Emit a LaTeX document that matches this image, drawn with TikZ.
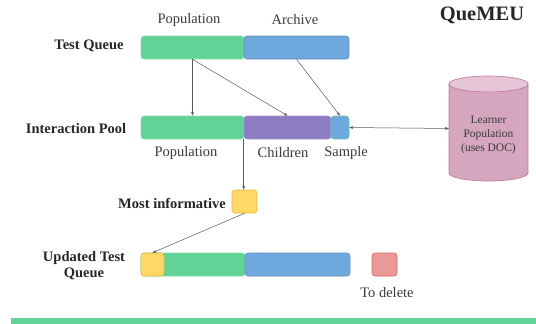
\documentclass[tikz,border=0pt]{standalone}
\usepackage{fontspec}
\setmainfont{Liberation Serif}
\usetikzlibrary{arrows.meta}
\definecolor{popgreen}{HTML}{62D396}
\definecolor{archblue}{HTML}{6FA8DC}
\definecolor{childpurple}{HTML}{8E7CC3}
\definecolor{infoyellow}{HTML}{FFD966}
\definecolor{infoline}{HTML}{E5B83A}
\definecolor{delred}{HTML}{EA9999}
\definecolor{delline}{HTML}{E06666}
\definecolor{learnerpink}{HTML}{D5A6BD}
\definecolor{learnertop}{HTML}{E6C6D6}
\definecolor{learnerline}{HTML}{C27BA0}
\definecolor{labelgray}{HTML}{3A3A3A}

\begin{document}
\begin{tikzpicture}[x=1pt, y=-1pt,
    box/.style={rounded corners=3pt, line width=0.6pt, inner sep=0pt, minimum height=23pt},
    rowlabel/.style={font=\fontsize{14.5}{16}\selectfont\bfseries, text=black!85, align=center},
    partlabel/.style={font=\fontsize{14.5}{16}\selectfont, text=labelgray},
    link/.style={draw=black!65, line width=0.5pt, -{Stealth[length=4pt, width=3pt]}}]
    \useasboundingbox (0,0) rectangle (536,324);

    % Title
    \node[font=\fontsize{20.5}{22}\selectfont\bfseries, text=black!85] (title) at (482,15.5) {QueMEU};

    % Test queue
    \node[box, fill=popgreen, draw=popgreen!75!white, minimum width=103pt] (tqpop) at (192.5,47.5) {};
    \node[box, fill=archblue, draw=archblue!85!black, minimum width=105pt] (tqarch) at (296.5,47.5) {};
    \node[rowlabel] (tqlabel) at (89,46) {Test Queue};
    \node[partlabel] (tqpoplabel) at (189,20) {Population};
    \node[partlabel] (tqarchlabel) at (295,20) {Archive};

    % Interaction pool
    \node[box, fill=popgreen, draw=popgreen!75!white, minimum width=103pt] (ippop) at (192.5,127.5) {};
    \node[box, fill=childpurple, draw=childpurple!85!white, minimum width=87pt] (ipchild) at (287.5,127.5) {};
    \node[box, fill=archblue, draw=popgreen!80!archblue, minimum width=18pt] (ipsample) at (340,127.5) {};
    \node[rowlabel] (iplabel) at (76,128.5) {Interaction Pool};
    \node[partlabel] (ippoplabel) at (186,153) {Population};
    \node[partlabel] (ipchildlabel) at (283,153) {Children};
    \node[partlabel] (ipsamplelabel) at (346,153) {Sample};

    % Learner population
    \fill[learnerpink] (449,84) -- (449,173) arc (180:0:39.5 and 8) -- (528,84) -- cycle;
    \draw[learnerline, line width=0.7pt] (449,84) -- (449,173) arc (180:0:39.5 and 8) -- (528,84);
    \draw[learnerline, fill=learnertop, line width=0.7pt] (488.5,84) ellipse (39.5 and 8);
    \node[font=\fontsize{11.5}{14}\selectfont, text=labelgray, align=center] (learner) at (488.5,135) {Learner\\Population\\(uses DOC)};
    \coordinate (learnerside) at (449,128.5);

    % Most informative
    \node[box, fill=infoyellow, draw=infoline, minimum width=25pt] (mostinf) at (244.5,201.5) {};
    \node[rowlabel] (mostinflabel) at (172,203) {Most informative};

    % Updated test queue
    \node[box, fill=popgreen, draw=popgreen!75!white, minimum width=104pt] (uqpop) at (193,264.5) {};
    \node[box, fill=archblue, draw=archblue!85!black, minimum width=105pt] (uqarch) at (297.5,264.5) {};
    \node[box, fill=infoyellow, draw=infoline, minimum width=23pt] (uqnew) at (152.5,264.5) {};
    \node[rowlabel] (uqlabel) at (84,266) {Updated Test\\Queue};
    \node[box, fill=delred, draw=delline, minimum width=25pt] (todel) at (384.5,264.5) {};
    \node[partlabel] (todellabel) at (387,293) {To delete};

    % Arrows
    \draw[link] (tqpop.south) -- (tqpop.south |- ippop.north);
    \draw[link] (tqpop.south) -- (ipchild.north);
    \draw[link] (tqarch.south) -- (ipsample.north);
    \draw[link, {Stealth[length=4pt, width=3pt]}-{Stealth[length=4pt, width=3pt]}] (ipsample.east) -- (learnerside);
    \draw[link] (ipchild.south west) -- (ipchild.south west |- mostinf.north);
    \draw[link] (mostinf.south) -- (uqnew.north);

    % Bottom bar
    \fill[popgreen] (11,318) rectangle (536,324);
\end{tikzpicture}
\end{document}
